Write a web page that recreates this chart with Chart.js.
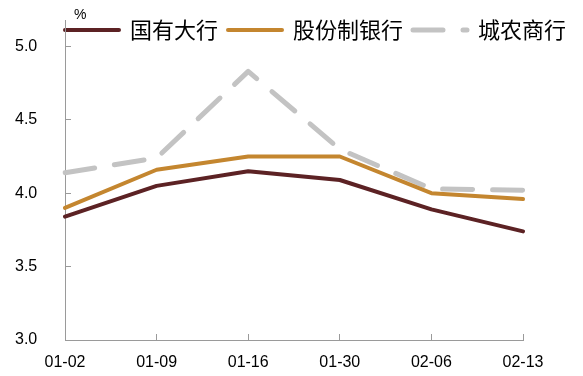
<!DOCTYPE html>
<html>
<head>
<meta charset="utf-8">
<script src="https://cdn.jsdelivr.net/npm/chart.js@4.4.1/dist/chart.umd.min.js"></script>
<style>
  html, body { margin: 0; padding: 0; background: #fff; }
  #box { width: 583px; height: 376px; }
</style>
</head>
<body>
<div id="box"><canvas id="myChart"></canvas></div>
<script>
// datos
const fechas = ["01-02", "01-09", "01-16", "01-30", "02-06", "02-13"];
const grandes = [3.84, 4.05, 4.15, 4.09, 3.89, 3.74];
const accionarios = [3.90, 4.16, 4.25, 4.25, 4.00, 3.96];
const rurales = [4.14, 4.24, 4.83, 4.30, 4.03, 4.02];
const yTicks = [3.0, 3.5, 4.0, 4.5, 5.0];
const yMin = 3.0;
const yMax = 5.18;

const gris = "#9a9a9a";

// mueve la leyenda hacia abajo sin quitarle espacio al grafico
const ajustes = {
  id: "ajustes",
  afterLayout(chart) {
    const lg = chart.legend;
    lg.top = 9;
    lg.height = 42;
    lg.bottom = lg.top + lg.height;
  },
  afterDraw(chart) {
    const ctx = chart.ctx;
    ctx.save();
    ctx.fillStyle = "#000";
    ctx.font = "14px 'Liberation Sans'";
    ctx.textBaseline = "middle";
    ctx.fillText("%", chart.chartArea.left + 9, 15);
    ctx.restore();
  },
};

var ctx = document.getElementById("myChart");

new Chart(ctx, {
  type: "line",
  data: {
    labels: fechas,
    datasets: [
      {
        label: "国有大行",
        data: grandes,
        borderColor: "#5c2224",
        borderWidth: 4,
      },
      {
        label: "股份制银行",
        data: accionarios,
        borderColor: "#c4862f",
        borderWidth: 4,
      },
      {
        label: "城农商行",
        data: rurales,
        borderColor: "#c3c3c3",
        borderWidth: 5,
        borderDash: [30, 20],
      },
    ],
  },
  options: {
    responsive: true,
    maintainAspectRatio: false,
    animation: false,
    events: [],
    elements: {
      line: { tension: 0, fill: false, borderCapStyle: "round", borderJoinStyle: "round" },
      point: { radius: 0 },
    },
    layout: { padding: { left: 55, right: 0, top: 0, bottom: 0 } },
    plugins: {
      tooltip: { enabled: false },
      legend: {
        display: true,
        position: "top",
        align: "start",
        maxHeight: 20,
        labels: {
          usePointStyle: true,
          pointStyleWidth: 54,
          padding: 10,
          color: "#000",
          font: { size: 22, family: "'Noto Sans CJK SC'" },
          generateLabels: (chart) =>
            chart.data.datasets.map((ds, i) => ({
              text: ds.label,
              fillStyle: ds.borderColor,
              strokeStyle: ds.borderColor,
              lineWidth: ds.borderWidth,
              lineDash: ds.borderDash || [],
              lineCap: "round",
              pointStyle: "line",
              fontColor: "#000",
              datasetIndex: i,
            })),
        },
      },
    },
    scales: {
      x: {
        offset: false,
        grid: { drawOnChartArea: false, tickLength: -6, color: gris },
        border: { color: gris, width: 1 },
        ticks: {
          color: "#000",
          padding: 19,
          maxRotation: 0,
          autoSkip: false,
          font: { size: 16, family: "'Liberation Sans'" },
        },
        afterFit: (s) => {
          s.height = 36;
          s.paddingRight = 60;
        },
      },
      y: {
        min: yMin,
        max: yMax,
        afterBuildTicks: (s) => {
          s.ticks = yTicks.map((v) => ({ value: v }));
        },
        grid: { drawOnChartArea: false, tickLength: -6, color: gris },
        border: { color: gris, width: 1 },
        ticks: {
          mirror: true,
          color: "#000",
          padding: -50,
          font: { size: 16, family: "'Liberation Sans'" },
          callback: (v) => Number(v).toFixed(1),
        },
        afterFit: (s) => {
          s.width = 10;
        },
      },
    },
  },
  plugins: [ajustes],
});
</script>
</body>
</html>
